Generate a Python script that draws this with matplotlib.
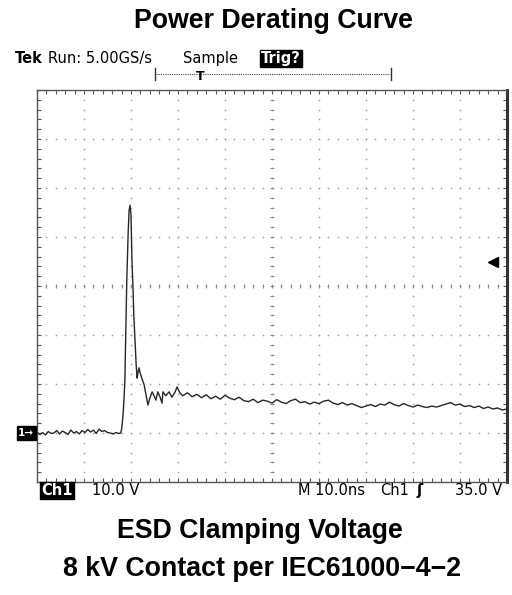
import numpy as np
import matplotlib
matplotlib.use("Agg")
import matplotlib.pyplot as plt
from matplotlib.lines import Line2D
import matplotlib.transforms as mtransforms

# ---------------- data (time in ns, Ch1 voltage in V relative to ground marker) -------------
time_ns = [0.0, 0.6, 1.2, 1.8, 2.4, 3.0, 3.6, 4.2, 4.8, 5.4, 6.0, 6.6, 7.2, 7.8, 8.4, 9.0,
           9.6, 10.2, 10.8, 11.4, 12.0, 12.6, 13.2, 13.8, 14.4, 15.0, 15.6, 16.2, 16.8, 17.4,
           17.8, 18.0, 18.1, 18.3, 18.5, 18.7, 18.9, 19.1, 19.4, 19.6, 19.8,
           20.0, 20.1, 20.2, 20.4, 20.6, 20.9, 21.1, 21.3, 21.5, 21.7, 21.9, 22.3, 22.8, 23.2,
           23.6, 24.0, 24.5, 24.9, 25.3, 25.7, 26.2, 26.6, 26.8, 27.4, 28.1, 28.7, 29.4, 29.8,
           30.4, 31, 32, 33, 34, 35, 36, 37, 38, 39, 40, 41, 42, 43, 44, 45, 46, 47, 48, 49, 50,
           51, 52, 53, 54, 55, 56, 57, 58, 59, 60, 61, 62, 63, 64, 65, 66, 67, 68, 69, 70,
           71, 72, 73, 74, 75, 76, 77, 78, 79, 80, 81, 82, 83, 84, 85, 86, 87, 88, 89, 90,
           91, 92, 93, 94, 95, 96, 97, 98, 99, 100]
volts = [0.2, -0.3, 0.1, -0.4, 0.3, -0.1, 0.0, 0.5, -0.2, 0.4, 0.1, -0.3, 0.6, 0.0, 0.3, -0.2,
         0.5, 0.1, 0.7, 0.2, 0.6, -0.1, 0.8, 0.3, 0.5, 0.1, 0.0, -0.2, 0.1, -0.1,
         0.0, 0.8, 1.6, 3.7, 6.7, 10.8, 21.0, 31.0, 41.0, 45.5, 46.5,
         44.5, 39.4, 35.3, 30.2, 24.0, 18.0, 13.9, 11.2, 12.4, 13.3, 12.4, 11.2, 9.8, 7.8,
         5.7, 7.1, 8.4, 7.6, 6.7, 8.4, 7.3, 6.1, 8.4, 7.6, 8.4, 7.3, 8.4, 9.4,
         8.2, 7.6, 8.2, 7.4, 7.9, 7.2, 7.8, 7.0, 7.5, 6.9, 7.7, 7.1, 6.8, 7.3, 6.6, 6.4, 6.9,
         6.2, 6.7, 6.5, 6.1, 6.8, 6.3, 6.0, 6.6, 6.9, 6.2, 6.4, 5.9, 6.3, 6.0, 6.5, 6.7, 6.1,
         5.8, 6.2, 5.7, 6.0, 5.6, 5.2, 5.5, 5.8, 5.4, 5.9, 5.7, 6.3, 5.8, 5.5, 6.0, 5.6, 5.3,
         5.7, 5.4, 5.2, 5.5, 5.3, 5.6, 5.9, 6.2, 5.7, 5.9, 5.4, 5.6, 5.2, 5.5, 5.0, 5.3, 4.9,
         5.1, 4.7, 4.9]

trigger_level_v = 35.0
title = "Power Derating Curve"
subtitle1 = "ESD Clamping Voltage"
subtitle2 = "8 kV Contact per IEC61000\u22124\u22122"

# ---------------- figure ----------------
W, H = 512, 595
fig = plt.figure(figsize=(W / 100, H / 100), dpi=100)
L, R, T, B = 37, 507, 90, 482
ax = fig.add_axes([L / W, 1 - B / H, (R - L) / W, (B - T) / H])
ax.set_xlim(0, 100)
ax.set_ylim(-10, 70)

def fx(px):
    return px / W

def fy(py):
    return 1 - py / H

# graticule dots
gcol = "#a0a0a0"
dots_t = np.arange(0, 100.01, 2)
dots_v = np.arange(-10, 70.01, 2)
for xv in range(10, 100, 10):
    if xv == 50:
        continue
    ax.plot(np.full_like(dots_v, xv), dots_v, ls="none", marker="o", ms=1.2, color=gcol, mew=0)
for yv in range(0, 70, 10):
    if yv == 30:
        continue
    ax.plot(dots_t, np.full_like(dots_t, yv), ls="none", marker="o", ms=1.2, color=gcol, mew=0)
# center crosshair with tick marks
ax.plot(dots_t, np.full_like(dots_t, 30.0), ls="none", marker="|", ms=3.5, color="#8a8a8a", mew=0.8)
ax.plot(dots_t, np.full_like(dots_t, 30.0), ls="none", marker="o", ms=1.2, color="#8a8a8a", mew=0)
ax.plot(np.full_like(dots_v, 50.0), dots_v, ls="none", marker="_", ms=3.5, color="#8a8a8a", mew=0.8)
ax.plot(np.full_like(dots_v, 50.0), dots_v, ls="none", marker="o", ms=1.2, color="#8a8a8a", mew=0)

# trace
ax.plot(time_ns, volts, color="#262626", lw=1.0, zorder=5)

# trigger level arrow
ax.plot([97.0], [trigger_level_v], marker="<", ms=6.5, color="black", ls="none", zorder=6)

# ground marker
trans = mtransforms.blended_transform_factory(ax.transAxes, ax.transData)
ax.text(-0.006, 0.0, "1\u2192", transform=trans, ha="right", va="center", color="white",
        fontsize=7.5, fontweight="bold", family="DejaVu Sans",
        bbox=dict(boxstyle="square,pad=0.15", fc="black", ec="black"), clip_on=False)

ax.set_xticks(np.arange(0, 101, 10))
ax.set_yticks(np.arange(-10, 71, 10))
ax.set_xticks(dots_t, minor=True)
ax.set_yticks(dots_v, minor=True)
ax.tick_params(which="both", direction="in", length=3, width=0.8, color="#555555",
               top=True, right=True, labelbottom=False, labelleft=False)
for s in ax.spines.values():
    s.set_color("#555555")
    s.set_linewidth(1.0)
ax.spines["right"].set_linewidth(2.2)
ax.spines["right"].set_color("#333333")

# titles
tfont = dict(fontsize=19.3, fontweight="bold", family="Liberation Sans", va="baseline", ha="center")
fig.text(fx(273), fy(28), title, **tfont)
fig.text(fx(260), fy(538), subtitle1, **tfont)
fig.text(fx(262), fy(576), subtitle2, **tfont)

# scope header
sfont = dict(fontsize=10.5, family="DejaVu Sans", va="baseline")
fig.text(fx(15), fy(63), "Tek", fontweight="bold", **sfont)
fig.text(fx(48), fy(63), "Run: 5.00GS/s", **sfont)
fig.text(fx(183), fy(63), "Sample", **sfont)
fig.text(fx(261), fy(63), "Trig?", color="white", fontweight="bold",
         bbox=dict(boxstyle="square,pad=0.1", fc="black", ec="black"), **sfont)
# trigger position bracket
fig.add_artist(Line2D([fx(156), fx(390)], [fy(74), fy(74)], ls=(0, (1, 1)), lw=0.8, color="#444444"))
fig.add_artist(Line2D([fx(155), fx(155)], [fy(68), fy(80)], lw=1.0, color="#333333"))
fig.add_artist(Line2D([fx(391), fx(391)], [fy(68), fy(80)], lw=1.0, color="#333333"))
fig.text(fx(200), fy(80), "T", ha="center", fontweight="bold", fontsize=9, family="DejaVu Sans",
         va="baseline")

# scope footer
fig.text(fx(41), fy(495), "Ch1", color="white", fontweight="bold",
         bbox=dict(boxstyle="square,pad=0.1", fc="black", ec="black"), **sfont)
fig.text(fx(92), fy(495), "10.0 V", **sfont)
fig.text(fx(298), fy(495), "M 10.0ns", **sfont)
fig.text(fx(380), fy(495), "Ch1", **sfont)
fig.text(fx(416), fy(495), "\u0283", fontweight="bold", **sfont)
fig.text(fx(502), fy(495), "35.0 V", ha="right", **sfont)

fig.savefig("out.png", dpi=100)
